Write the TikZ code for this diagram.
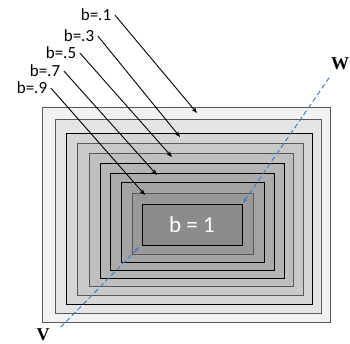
\documentclass[tikz,border=0pt]{standalone}
\usepackage{fontspec}
\setmainfont{Carlito}
\newfontfamily\axisfont{Liberation Serif}
\usepackage{xcolor}
\usetikzlibrary{arrows.meta,positioning}

\definecolor{axisblue}{HTML}{4A7EBB}

\begin{document}
\begin{tikzpicture}[
  x=1pt, y=-1pt,
  layer/.style={draw=#1, line width=0.9pt},
  layer/.default=black!65,
  lbl/.style={font=\fontsize{17}{20}\selectfont, inner sep=1.5pt},
  arr/.style={-{Stealth[length=6pt,width=4.5pt]}, line width=0.9pt},
  axis/.style={{Stealth[length=5pt,width=4pt]}-, draw=axisblue, dashed,
               dash pattern=on 5pt off 3pt, line width=1pt},
  axlbl/.style={font=\axisfont\bfseries\fontsize{18}{20}\selectfont, inner sep=0pt},
]
\useasboundingbox (0,0) rectangle (350,344);

%% --- Nested levels ---
\filldraw[layer,        fill=black!5]  (42,107)  rectangle (330,322);
\filldraw[layer,        fill=black!10] (55,119)  rectangle (321,313);
\filldraw[layer=black,  fill=black!16] (66,133)  rectangle (312,304);
\filldraw[layer,        fill=black!21] (77,143)  rectangle (303,295);
\filldraw[layer,        fill=black!25] (89,153)  rectangle (293,286);
\filldraw[layer=black,  fill=black!29] (100,163) rectangle (284,278);
\filldraw[layer=black,  fill=black!33] (110,173) rectangle (274,270);
\filldraw[layer=black,  fill=black!36] (121,182) rectangle (264,262);
\filldraw[layer,        fill=black!40] (132,193) rectangle (253,254);
\node[layer=black, fill=black!45, minimum width=100pt, minimum height=41pt,
      inner sep=0pt, text=white, font=\fontsize{23}{25}\selectfont]
      (core) at (192,225) {b = 1};

%% --- Level labels ---
\node[lbl] (b1) at (96,15) {b=.1};
\node[lbl] (b3) at (79,36) {b=.3};
\node[lbl] (b5) at (61,53) {b=.5};
\node[lbl] (b7) at (45,71) {b=.7};
\node[lbl] (b9) at (32,88) {b=.9};

\coordinate (t1) at (197,113);
\coordinate (t3) at (180,137);
\coordinate (t5) at (172,157);
\coordinate (t7) at (157,175);
\coordinate (t9) at (145,195);

\draw[arr] ([xshift=2pt]b1.east) -- (t1);
\draw[arr] ([xshift=2pt]b3.east) -- (t3);
\draw[arr] ([xshift=2pt]b5.east) -- (t5);
\draw[arr] ([xshift=2pt]b7.east) -- (t7);
\draw[arr] ([xshift=2pt]b9.east) -- (t9);

%% --- Directions ---
\node[axlbl] (v) at (43,335) {V};
\node[axlbl] (w) at (340,64) {W};
\coordinate (vend) at (59,329);
\coordinate (wend) at (331,75);
\coordinate (vtip) at (139,247);
\coordinate (wtip) at (243,203);

\draw[axis] (vtip) -- (vend);
\draw[axis] (wtip) -- (wend);

\end{tikzpicture}
\end{document}
